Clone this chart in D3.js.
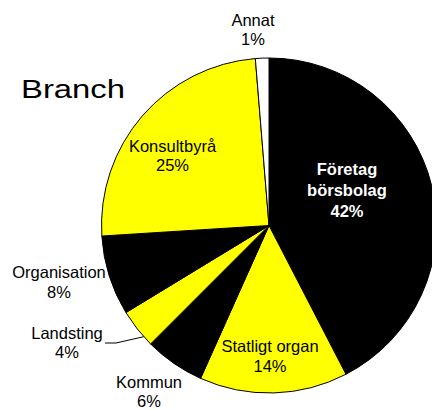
<!DOCTYPE html>
<html>
<head>
<meta charset="utf-8">
<script src="https://cdn.jsdelivr.net/npm/d3@7"></script>
<style>
  body { margin: 0; background: #fff; }
  svg { display: block; font-family: "Liberation Sans", Arial, sans-serif; }
</style>
</head>
<body>
<svg id="chart" width="432" height="410"></svg>
<script>
// slices, clockwise from 12 o'clock
var categories = ['Företag börsbolag', 'Statligt organ', 'Kommun', 'Landsting', 'Organisation', 'Konsultbyrå', 'Annat'];
var shares = [42.4, 14.3, 5.8, 3.8, 7.7, 24.7, 1.3];
var fills = ['#000000', '#ffff00', '#000000', '#ffff00', '#000000', '#ffff00', '#ffffff'];

var data = categories.map(function (c, i) {
	return { label: c, value: shares[i], fill: fills[i] };
});

var svg = d3.select('#chart');
var cx = 269, cy = 225.5, r = 167.5;

var pie = d3.pie().sort(null).value(function (d) { return d.value; });
var arc = d3.arc().innerRadius(0).outerRadius(r);

var g = svg.append('g').attr('transform', 'translate(' + cx + ',' + cy + ')');

g.selectAll('path.slice')
	.data(pie(data))
	.enter()
	.append('path')
		.attr('class', 'slice')
		.attr('d', arc)
		.attr('fill', function (d) { return d.data.fill; })
		.attr('stroke', '#000')
		.attr('stroke-width', 1);

// title (stretched wide like the original)
svg.append('text')
	.attr('x', 21)
	.attr('y', 98)
	.attr('font-size', 26)
	.attr('textLength', 104)
	.attr('lengthAdjust', 'spacingAndGlyphs')
	.text('Branch');

// label placement (absolute, first baseline), line step
var labelPos = {
	'Företag börsbolag': { x: 347, y: 175, step: 21, color: '#fff', bold: true, lines: ['Företag', 'börsbolag'] },
	'Statligt organ': { x: 270, y: 352, step: 20 },
	'Kommun': { x: 149, y: 388, step: 19 },
	'Landsting': { x: 67, y: 339, step: 19 },
	'Organisation': { x: 59, y: 278, step: 20 },
	'Konsultbyrå': { x: 172.5, y: 151.5, step: 19 },
	'Annat': { x: 253, y: 26, step: 19 }
};

var labels = svg.selectAll('text.lbl')
	.data(data)
	.enter()
	.append('text')
		.attr('class', 'lbl')
		.attr('text-anchor', 'middle')
		.attr('font-size', 16.5)
		.attr('fill', function (d) { return labelPos[d.label].color || '#000'; })
		.attr('font-weight', function (d) { return labelPos[d.label].bold ? 'bold' : 'normal'; });

labels.each(function (d) {
	var p = labelPos[d.label];
	var lines = (p.lines || [d.label]).concat([Math.round(d.value) + '%']);
	d3.select(this).selectAll('tspan')
		.data(lines)
		.enter()
		.append('tspan')
			.attr('x', p.x)
			.attr('y', function (t, i) { return p.y + i * p.step; })
			.text(function (t) { return t; });
});

// leader line for Landsting, to the slice's outer edge
var slices = pie(data);
var land = slices[3];
var mid = (land.startAngle + land.endAngle) / 2 - 0.06;
var ex = cx + Math.sin(mid) * r, ey = cy - Math.cos(mid) * r;
svg.append('polyline')
	.attr('points', [[105, 343], [116, 343], [ex, ey]].map(function (p) { return p.join(','); }).join(' '))
	.attr('fill', 'none')
	.attr('stroke', '#000')
	.attr('stroke-width', 1);
</script>
</body>
</html>
